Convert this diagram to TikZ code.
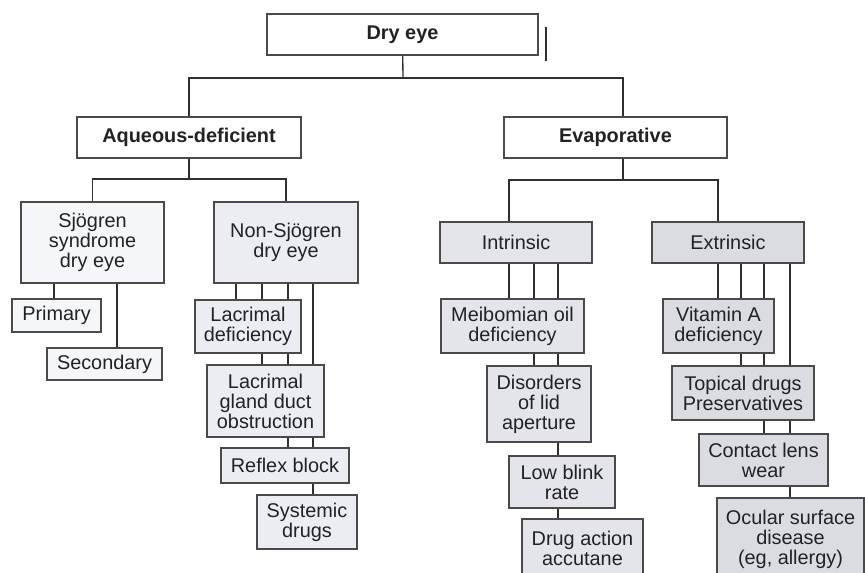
\documentclass[tikz,border=0pt]{standalone}
\usepackage{fontspec}
\setmainfont{Liberation Sans}
\usetikzlibrary{backgrounds}
\newdimen\pxu \pxu=0.75pt
\definecolor{bordc}{HTML}{4A4A4A}
\definecolor{linec}{HTML}{303030}
\definecolor{txtc}{HTML}{222222}
\definecolor{fsj}{HTML}{F5F6FA}
\definecolor{fns}{HTML}{EBEDF3}
\definecolor{fint}{HTML}{E3E5EB}
\definecolor{fext}{HTML}{DADCE2}
\tikzset{
  bx/.style={draw=bordc, line width=0.9pt, fill=white, inner sep=0pt, align=center,
    text=txtc, font=\fontsize{14.9}{15}\selectfont},
  bxb/.style={bx, font=\fontsize{14.9}{15}\selectfont\bfseries},
  conn/.style={draw=linec, line width=1pt},
}
\begin{document}
\begin{tikzpicture}[x=0.75pt, y=-0.75pt]
\useasboundingbox (0,0) rectangle (865,572);
\clip (0,0) rectangle (865,572);

% top levels
\node[bxb, minimum width=271\pxu, minimum height=41\pxu] (dry) at (402.5,34.5) {Dry eye};
\node[bxb, minimum width=224\pxu, minimum height=41\pxu] (aq) at (189,137.5) {Aqueous-deficient};
\node[bxb, minimum width=223\pxu, minimum height=41\pxu] (ev) at (615.5,137.5) {Evaporative};

% second level
\node[bx, fill=fsj, minimum width=143\pxu, minimum height=81\pxu] (sj) at (92.5,242.5) {Sjögren\\syndrome\\dry eye};
\node[bx, fill=fns, minimum width=144\pxu, minimum height=81\pxu] (ns) at (286,242.5) {Non-Sjögren\\dry eye};
\node[bx, fill=fint, minimum width=152\pxu, minimum height=41\pxu] (intr) at (516,242.5) {Intrinsic};
\node[bx, fill=fext, minimum width=152\pxu, minimum height=41\pxu] (extr) at (728,242.5) {Extrinsic};

% Sjogren children
\node[bx, fill=fsj, minimum width=89\pxu, minimum height=33\pxu] (prim) at (56.5,315.5) {Primary};
\node[bx, fill=fsj, minimum width=115\pxu, minimum height=32\pxu] (sec) at (104.5,364) {Secondary};

% Non-Sjogren children
\node[bx, fill=fns, minimum width=106\pxu, minimum height=53\pxu] (lacdef) at (248,326.5) {Lacrimal\\deficiency};
\node[bx, fill=fns, minimum width=117\pxu, minimum height=72\pxu] (lacgl) at (265.5,401) {Lacrimal\\gland duct\\obstruction};
\node[bx, fill=fns, minimum width=128\pxu, minimum height=35\pxu] (refl) at (285,465.5) {Reflex block};
\node[bx, fill=fns, minimum width=100\pxu, minimum height=54\pxu] (sys) at (307,522) {Systemic\\drugs};

% Intrinsic children
\node[bx, fill=fint, minimum width=143\pxu, minimum height=54\pxu] (meib) at (512.5,326) {Meibomian oil\\deficiency};
\node[bx, fill=fint, minimum width=104\pxu, minimum height=76\pxu] (dis) at (539,404) {Disorders\\of lid\\aperture};
\node[bx, fill=fint, minimum width=106\pxu, minimum height=52\pxu] (low) at (562,482) {Low blink\\rate};
\node[bx, fill=fint, minimum width=121\pxu, minimum height=58\pxu] (drug) at (582.5,548) {Drug action\\accutane};

% Extrinsic children
\node[bx, fill=fext, minimum width=111\pxu, minimum height=54\pxu] (vit) at (718.5,326) {Vitamin A\\deficiency};
\node[bx, fill=fext, minimum width=142\pxu, minimum height=54\pxu] (topd) at (743,393) {Topical drugs\\Preservatives};
\node[bx, fill=fext, minimum width=129\pxu, minimum height=52\pxu] (cont) at (763.5,460) {Contact lens\\wear};
\node[bx, fill=fext, minimum width=147\pxu, minimum height=82\pxu] (ocu) at (790.5,539) {Ocular surface\\disease\\(eg, allergy)};

% junction coordinates
\coordinate (j1) at (403,78);
\coordinate (j2) at (189,179);
\coordinate (j3) at (623,180);
\coordinate (i1) at (509,180);
\coordinate (e1) at (718,180);
\coordinate (s1) at (54,0);
\coordinate (s2) at (117,0);
\coordinate (n1) at (236,0);
\coordinate (n2) at (262,0);
\coordinate (n3) at (288,0);
\coordinate (n4) at (313,0);
\coordinate (t1) at (509,0);
\coordinate (t2) at (534,0);
\coordinate (t3) at (558,0);
\coordinate (x1) at (718,0);
\coordinate (x2) at (741,0);
\coordinate (x3) at (764,0);
\coordinate (x4) at (790,0);
\coordinate (m1) at (546,27);
\coordinate (m2) at (546,61);

\begin{scope}[on background layer]
  \fill[white] (0,0) rectangle (865,572);
  % level 1
  \draw[conn] (dry) -- (j1);
  \draw[conn] (aq.north) |- (j1);
  \draw[conn] (j1) -| (ev.north -| j3);
  % aqueous
  \draw[conn] (aq) -- (j2);
  \draw[conn] (sj.north) |- (j2) -| (ns.north);
  % evaporative
  \draw[conn] (ev.south -| j3) -- (j3);
  \draw[conn] (intr.north -| i1) -- (i1) -- (e1) -- (extr.north -| e1);
  % Sjogren
  \draw[conn] (sj.south -| s1) -- (prim.north -| s1);
  \draw[conn] (sj.south -| s2) -- (sec.north -| s2);
  % Non-Sjogren
  \draw[conn] (ns.south -| n1) -- (lacdef.north -| n1);
  \draw[conn] (ns.south -| n2) -- (lacgl.north -| n2);
  \draw[conn] (ns.south -| n3) -- (refl.north -| n3);
  \draw[conn] (ns.south -| n4) -- (sys.north -| n4);
  % Intrinsic
  \draw[conn] (intr.south -| t1) -- (meib.north -| t1);
  \draw[conn] (intr.south -| t2) -- (dis.north -| t2);
  \draw[conn] (intr.south -| t3) -- (drug.north -| t3);
  % Extrinsic
  \draw[conn] (extr.south -| x1) -- (vit.north -| x1);
  \draw[conn] (extr.south -| x2) -- (topd.north -| x2);
  \draw[conn] (extr.south -| x3) -- (cont.north -| x3);
  \draw[conn] (extr.south -| x4) -- (ocu.north -| x4);
\end{scope}

% stray mark beside the title box
\draw[draw=linec, line width=0.8pt] (m1) -- (m2);
\end{tikzpicture}
\end{document}
